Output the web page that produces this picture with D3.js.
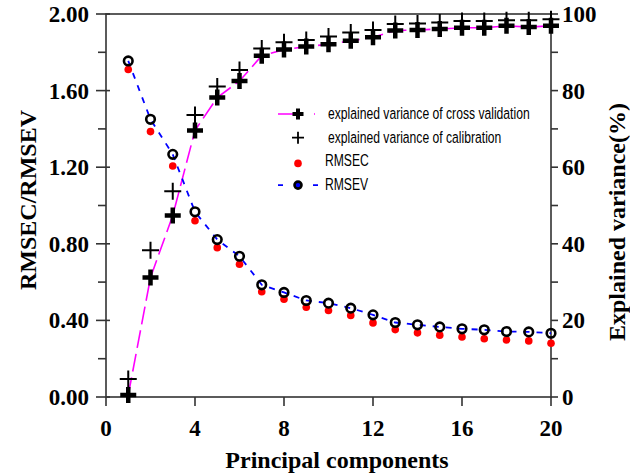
<!DOCTYPE html>
<html>
<head>
<meta charset="utf-8">
<script src="https://cdn.jsdelivr.net/npm/d3@7"></script>
<style>
  body { margin: 0; background: #fff; }
  svg { display: block; }
  .tick-label { font-family: "Liberation Serif", "Times New Roman", serif; font-weight: bold; font-size: 23px; }
  .axis-title { font-family: "Liberation Serif", "Times New Roman", serif; font-weight: bold; font-size: 24px; }
  .legend text { font-family: "Liberation Sans", Arial, sans-serif; font-size: 15px; }
</style>
</head>
<body>
<svg id="chart"></svg>
<script>
// principal components 1..20
const pcs = d3.range(1, 21);

// explained variance (%) - right axis
const cvVariance  = [0.5, 31.2, 47.4, 69.6, 78.2, 82.5, 89.1, 90.7, 91.5, 92.1, 93.0, 93.9, 95.7, 95.8, 96.1, 96.4, 96.4, 96.9, 96.6, 96.9];
const calVariance = [4.7, 38.3, 53.7, 73.6, 81.1, 85.4, 91.0, 92.6, 93.2, 94.1, 95.2, 95.8, 97.4, 97.5, 97.8, 98.2, 98.2, 98.4, 98.4, 98.6];

// RMSEC / RMSEV - left axis
const rmsec = [1.71, 1.386, 1.206, 0.92, 0.78, 0.693, 0.55, 0.511, 0.469, 0.452, 0.426, 0.387, 0.352, 0.335, 0.323, 0.313, 0.304, 0.298, 0.293, 0.281];
const rmsev = [1.755, 1.45, 1.267, 0.967, 0.822, 0.735, 0.586, 0.546, 0.504, 0.49, 0.464, 0.429, 0.389, 0.377, 0.366, 0.356, 0.351, 0.342, 0.34, 0.333];

const xTicks = [0, 4, 8, 12, 16, 20];
const leftTicks = [0, 0.4, 0.8, 1.2, 1.6, 2.0];
const rightTicks = [0, 20, 40, 60, 80, 100];

const W = 630, H = 475;
const svg = d3.select("#chart").attr("width", W).attr("height", H);

const x = d3.scaleLinear().domain([0, 20]).range([106, 551]);
const yL = d3.scaleLinear().domain([0, 2]).range([397, 14]);
const yR = d3.scaleLinear().domain([0, 100]).range([397, 14]);

const axisColor = "#333";

// frame
svg.append("rect")
  .attr("x", x(0)).attr("y", yL(2))
  .attr("width", x(20) - x(0)).attr("height", yL(0) - yL(2))
  .attr("fill", "none").attr("stroke", axisColor).attr("stroke-width", 1.6);

// x ticks
const gx = svg.append("g");
gx.selectAll("line").data(xTicks).enter().append("line")
  .attr("x1", d => x(d)).attr("x2", d => x(d))
  .attr("y1", yL(0)).attr("y2", yL(0) + 9)
  .attr("stroke", axisColor).attr("stroke-width", 1.6);
gx.selectAll("text").data(xTicks).enter().append("text")
  .attr("class", "tick-label")
  .attr("x", d => x(d)).attr("y", 436)
  .attr("text-anchor", "middle")
  .text(d => d);

// left ticks
const gl = svg.append("g");
gl.selectAll("line.minor").data(d3.range(0.2, 2, 0.4)).enter().append("line")
  .attr("x1", x(0) - 8).attr("x2", x(0))
  .attr("y1", d => yL(d)).attr("y2", d => yL(d))
  .attr("stroke", axisColor).attr("stroke-width", 1.6);
gl.selectAll("line.major").data(leftTicks).enter().append("line")
  .attr("x1", x(0) - 10).attr("x2", x(0) + 4)
  .attr("y1", d => yL(d)).attr("y2", d => yL(d))
  .attr("stroke", axisColor).attr("stroke-width", 1.6);
gl.selectAll("text").data(leftTicks).enter().append("text")
  .attr("class", "tick-label")
  .attr("x", 89).attr("y", d => yL(d) + 8)
  .attr("text-anchor", "end")
  .text(d => d.toFixed(2));

// right ticks
const gr = svg.append("g");
gr.selectAll("line").data(d3.range(0, 101, 10)).enter().append("line")
  .attr("x1", x(20)).attr("x2", x(20) + 7)
  .attr("y1", d => yR(d)).attr("y2", d => yR(d))
  .attr("stroke", axisColor).attr("stroke-width", 1.6);
gr.selectAll("text").data(rightTicks).enter().append("text")
  .attr("class", "tick-label")
  .attr("x", 562).attr("y", d => yR(d) + 8)
  .attr("text-anchor", "start")
  .text(d => d);

// axis titles
svg.append("text").attr("class", "axis-title")
  .attr("x", 337).attr("y", 468).attr("text-anchor", "middle")
  .text("Principal components");
svg.append("text").attr("class", "axis-title")
  .attr("transform", "translate(36,200) rotate(-90)").attr("text-anchor", "middle")
  .text("RMSEC/RMSEV");
svg.append("text").attr("class", "axis-title")
  .attr("transform", "translate(625,222) rotate(-90)").attr("text-anchor", "middle")
  .text("Explained variance(%)");

// lines
const cvLine = d3.line().x((d, i) => x(pcs[i])).y(d => yR(d));
svg.append("path").datum(cvVariance)
  .attr("d", cvLine).attr("fill", "none")
  .attr("stroke", "#ff00ff").attr("stroke-width", 1.6)
  .attr("stroke-dasharray", "18,6");

const rmsevLine = d3.line().x((d, i) => x(pcs[i])).y(d => yL(d));
svg.append("path").datum(rmsev)
  .attr("d", rmsevLine).attr("fill", "none")
  .attr("stroke", "#0000ff").attr("stroke-width", 1.8)
  .attr("stroke-dasharray", "6,7");

// markers
function plus(s) { return `M${-s},0H${s}M0,${-s}V${s}`; }

svg.append("g").selectAll("path").data(calVariance).enter().append("path")
  .attr("transform", (d, i) => `translate(${x(pcs[i])},${yR(d)})`)
  .attr("d", plus(8.5)).attr("stroke", "#000").attr("stroke-width", 2).attr("fill", "none");

svg.append("g").selectAll("path").data(cvVariance).enter().append("path")
  .attr("transform", (d, i) => `translate(${x(pcs[i])},${yR(d)})`)
  .attr("d", plus(8)).attr("stroke", "#000").attr("stroke-width", 4.5).attr("fill", "none");

svg.append("g").selectAll("circle").data(rmsec).enter().append("circle")
  .attr("cx", (d, i) => x(pcs[i])).attr("cy", d => yL(d))
  .attr("r", 3.8).attr("fill", "#ff0000");

svg.append("g").selectAll("circle").data(rmsev).enter().append("circle")
  .attr("cx", (d, i) => x(pcs[i])).attr("cy", d => yL(d))
  .attr("r", 4.3).attr("fill", "none").attr("stroke", "#000").attr("stroke-width", 2.6);

// legend
const legendItems = ["explained variance of cross validation", "explained variance of calibration", "RMSEC", "RMSEV"];
const lg = svg.append("g").attr("class", "legend");
const ly = d => 114 + d * 23.7;
const lx = 298;

lg.append("line").attr("x1", lx - 20).attr("x2", lx + 20).attr("y1", ly(0)).attr("y2", ly(0))
  .attr("stroke", "#ff00ff").attr("stroke-width", 1.6).attr("stroke-dasharray", "18,18,1,10");
lg.append("path").attr("transform", `translate(${lx},${ly(0)})`).attr("d", plus(5.5))
  .attr("stroke", "#000").attr("stroke-width", 4).attr("fill", "none");
lg.append("path").attr("transform", `translate(${lx},${ly(1)})`).attr("d", plus(6))
  .attr("stroke", "#000").attr("stroke-width", 1.8).attr("fill", "none");
lg.append("circle").attr("cx", lx).attr("cy", ly(2) + 2).attr("r", 3.8).attr("fill", "#ff0000");
lg.append("line").attr("x1", lx - 20).attr("x2", lx + 20).attr("y1", ly(3)).attr("y2", ly(3))
  .attr("stroke", "#0000ff").attr("stroke-width", 1.8).attr("stroke-dasharray", "5,30");
lg.append("circle").attr("cx", lx).attr("cy", ly(3)).attr("r", 3.5)
  .attr("fill", "#0000ff").attr("stroke", "#000").attr("stroke-width", 2.6);

// narrow sans look: squeeze the legend labels horizontally
lg.selectAll("text").data(legendItems).enter().append("text")
  .attr("transform", (d, i) => `translate(${i < 2 ? 328 : 325},${ly(i) + 5}) scale(0.81,1.05)`)
  .text(d => d);
</script>
</body>
</html>
